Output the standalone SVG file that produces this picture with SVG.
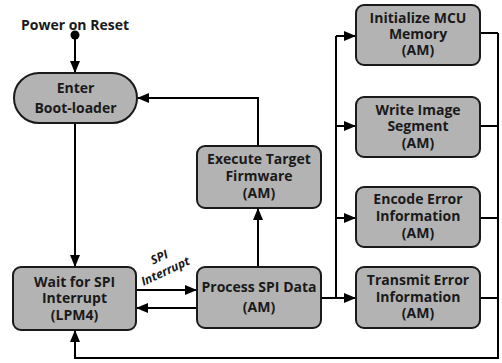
<svg xmlns="http://www.w3.org/2000/svg" width="502" height="363" viewBox="0 0 502 363">
<style>
.box{fill:#b3b3b3;stroke:#1a1a1a;stroke-width:2}
.t{font-family:"Open Sans","Liberation Sans",sans-serif;font-weight:bold;font-size:14px;fill:#1a1a1a;text-anchor:middle}
.c{fill:none;stroke:#000;stroke-width:2}
.a{marker-end:url(#ah)}
</style>
<defs>
<marker id="ah" markerWidth="12" markerHeight="10" refX="11" refY="5" orient="auto" markerUnits="userSpaceOnUse">
<path d="M0,0 L12,5 L0,10 Z" fill="#000"/>
</marker>
</defs>
<rect width="502" height="363" fill="#fff"/>
<g id="connectors">
<circle cx="75" cy="35" r="4.5" fill="#000"/>
<path class="c a" d="M75,35 V72"/>
<path class="c a" d="M75,123 V266"/>
<path class="c a" d="M136,290 H196"/>
<path class="c a" d="M197,308 H137"/>
<path class="c a" d="M258,267 V209"/>
<path class="c a" d="M258,146 V98 H138"/>
<path class="c" d="M321,298 H336"/>
<path class="c" d="M336,298 V36"/>
<path class="c a" d="M336,36 H355"/>
<path class="c a" d="M336,126 H355"/>
<path class="c a" d="M336,218 H355"/>
<path class="c a" d="M336,298 H355"/>
<path class="c" d="M480,33 H498 M480,126 H498 M480,218 H498 M480,298 H498"/>
<path class="c a" d="M498,33 V358 H75 V331"/>
</g>
<text class="t" x="75" y="30">Power on Reset</text>
<g id="boot">
<rect class="box" x="14" y="73" width="123" height="50" rx="25"/>
<text class="t" x="75.5" y="93">Enter</text>
<text class="t" x="75.5" y="113">Boot-loader</text>
</g>
<g id="wait">
<rect class="box" x="13" y="267" width="123" height="63" rx="8"/>
<text class="t" x="74.5" y="287">Wait for SPI</text>
<text class="t" x="74.5" y="303">Interrupt</text>
<text class="t" x="74.5" y="320">(LPM4)</text>
</g>
<g id="process">
<rect class="box" x="197" y="267" width="124" height="61" rx="8"/>
<text class="t" x="259" y="292">Process SPI Data</text>
<text class="t" x="259" y="312">(AM)</text>
</g>
<g id="execute">
<rect class="box" x="197" y="146" width="124" height="62" rx="8"/>
<text class="t" x="259" y="164">Execute Target</text>
<text class="t" x="259" y="181">Firmware</text>
<text class="t" x="259" y="198">(AM)</text>
</g>
<g id="init">
<rect class="box" x="356" y="5" width="124" height="60" rx="8"/>
<text class="t" x="418" y="23">Initialize MCU</text>
<text class="t" x="418" y="39">Memory</text>
<text class="t" x="418" y="55">(AM)</text>
</g>
<g id="write">
<rect class="box" x="356" y="97" width="124" height="60" rx="8"/>
<text class="t" x="418" y="115">Write Image</text>
<text class="t" x="418" y="131">Segment</text>
<text class="t" x="418" y="148">(AM)</text>
</g>
<g id="encode">
<rect class="box" x="356" y="187" width="124" height="60" rx="8"/>
<text class="t" x="418" y="204">Encode Error</text>
<text class="t" x="418" y="221">Information</text>
<text class="t" x="418" y="238">(AM)</text>
</g>
<g id="transmit">
<rect class="box" x="356" y="267" width="124" height="61" rx="8"/>
<text class="t" x="418" y="285">Transmit Error</text>
<text class="t" x="418" y="302">Information</text>
<text class="t" x="418" y="318">(AM)</text>
</g>
<g id="spi-label" font-family="'Open Sans','Liberation Sans',sans-serif" font-weight="bold" font-style="italic" font-size="12" fill="#1a1a1a" text-anchor="middle">
<text transform="translate(161,261) rotate(-25)">SPI</text>
<text transform="translate(167,275) rotate(-25)">Interrupt</text>
</g>
</svg>
